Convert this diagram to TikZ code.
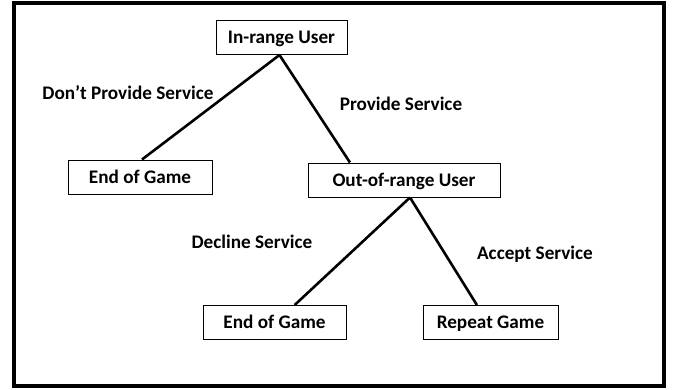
\documentclass[tikz,border=0pt]{standalone}
\usepackage{fontspec}
\setmainfont{Carlito}
\usepackage{tikz}
\usetikzlibrary{calc, positioning}

\begin{document}
\begin{tikzpicture}[x=1pt, y=-1pt,
every node/.style={font=\fontsize{19.2}{23}\selectfont\bfseries},
gamebox/.style={draw, line width=1pt, minimum height=34pt, inner sep=0pt, text height=16.4pt, text depth=4pt},
branch/.style={line width=2.6pt}
]
\useasboundingbox (0,0) rectangle (677,389);
\draw[line width=3.2pt] (14,3) rectangle (664,386);

% players and outcomes
\node[gamebox, minimum width=131pt] (inuser) at (281.5,37.5) {In-range User};
\node[gamebox, minimum width=144pt] (endA) at (140,177) {End of Game};
\node[gamebox, minimum width=192pt] (outuser) at (404,180) {Out-of-range User};
\node[gamebox, minimum width=143pt] (endB) at (274.5,322.5) {End of Game};
\node[gamebox, minimum width=135pt] (repeat) at (490.5,322.5) {Repeat Game};

% branches
\draw[branch] ([xshift=-2pt]inuser.south) -- ([xshift=2pt]endA.north);
\draw[branch] ([xshift=-2pt]inuser.south) -- ($(outuser.north west)!0.22!(outuser.north east)$);
\draw[branch] ([xshift=6pt]outuser.south) -- ($(endB.north west)!0.64!(endB.north east)$);
\draw[branch] ([xshift=6pt]outuser.south) -- ($(repeat.north west)!0.4!(repeat.north east)$);

% moves
\node (dont) at (128,93) {Don’t Provide Service};
\node (provide) at (401,104) {Provide Service};
\node (decline) at (252,242) {Decline Service};
\node (accept) at (535,254) {Accept Service};
\end{tikzpicture}
\end{document}
